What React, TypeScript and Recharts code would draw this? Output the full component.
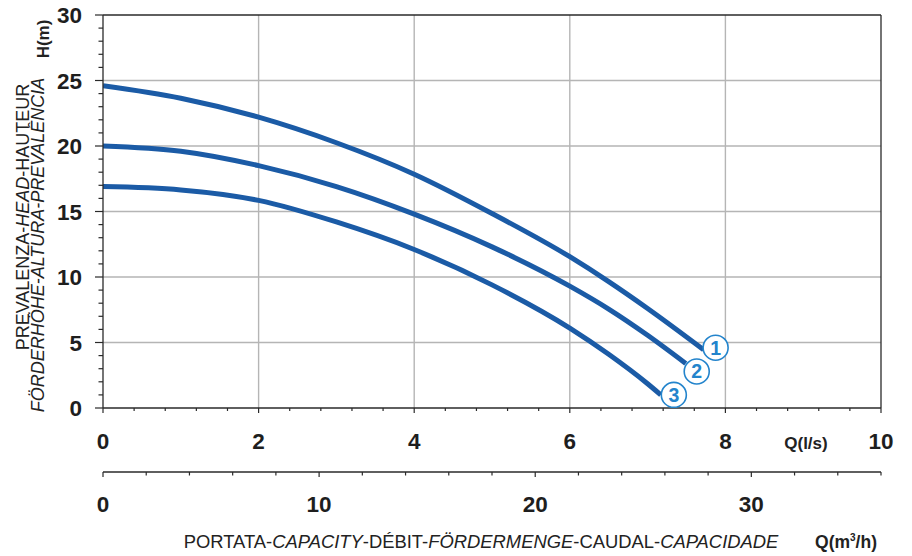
import { LineChart, Line, XAxis, YAxis, ReferenceLine, Label } from "recharts"

// pump curves, flow Q in l/s, head H in m
const Q_CURVE_1 = [0, 1, 2, 3, 4, 5, 6, 6.5, 7, 7.72]
const H_CURVE_1 = [24.6, 23.65, 22.2, 20.25, 17.85, 14.85, 11.55, 9.65, 7.6, 4.45]
const Q_CURVE_2 = [0, 1, 2, 3, 4, 5, 6, 6.5, 7, 7.49]
const H_CURVE_2 = [20.0, 19.6, 18.5, 16.9, 14.8, 12.3, 9.3, 7.55, 5.55, 3.4]
const Q_CURVE_3 = [0, 1, 2, 3, 4, 5, 6, 6.5, 7, 7.17]
const H_CURVE_3 = [16.9, 16.65, 15.85, 14.2, 12.1, 9.4, 6.1, 4.1, 1.85, 1.0]
const CURVE_NAMES = ["1", "2", "3"]

const H_TICKS = [0, 1, 2, 3, 4, 5, 6, 7, 8, 9, 10, 11, 12, 13, 14, 15, 16, 17, 18, 19, 20, 21, 22, 23, 24, 25, 26, 27, 28, 29, 30]
const H_LABELS = [0, 5, 10, 15, 20, 25, 30]
const H_GRID = [5, 10, 15, 20, 25]

const Q_TICKS = [0, 0.4, 0.8, 1.2, 1.6, 2, 2.4, 2.8, 3.2, 3.6, 4, 4.4, 4.8, 5.2, 5.6, 6, 6.4, 6.8, 7.2, 7.6, 8, 8.4, 8.8, 9.2, 9.6, 10]
const Q_LABELS = [0, 2, 4, 6, 8, 10]
const Q_GRID = [2, 4, 6, 8]

const M3_TICKS = [0, 2, 4, 6, 8, 10, 12, 14, 16, 18, 20, 22, 24, 26, 28, 30, 32, 34, 36]
const M3_LABELS = [0, 10, 20, 30]
const LS_TO_M3H = 3.6

const BLUE = "#1b5ba6"
const MARK = "#2384cc"
const AXIS = "#2a2a2a"
const GRID = "#b5b5b5"
const FONT = "'Liberation Sans', Arial, Helvetica, sans-serif"

const toSeries = (qs: number[], hs: number[]) => qs.map((q, i) => ({ q, h: hs[i] }))

const curves = [
    { name: CURVE_NAMES[0], data: toSeries(Q_CURVE_1, H_CURVE_1), dx: 12, dy: -2 },
    { name: CURVE_NAMES[1], data: toSeries(Q_CURVE_2, H_CURVE_2), dx: 11, dy: 8 },
    { name: CURVE_NAMES[2], data: toSeries(Q_CURVE_3, H_CURVE_3), dx: 13, dy: 0 },
]

// same curve 1 in m3/h, only so the second flow axis has a series bound to it
const curve1M3 = Q_CURVE_1.map((q, i) => ({ m3: q * LS_TO_M3H, h: H_CURVE_1[i] }))

function HTick({ x, y, payload }: any) {
    const v = payload.value
    const major = H_LABELS.includes(v)
    return (
        <g>
            <line x1={x - (major ? 8 : 4.5)} x2={x} y1={y} y2={y} stroke={AXIS} strokeWidth={1.2} />
            {major && (
                <text x={x - 21} y={y + 8} textAnchor="end" fontSize={22.5} fontWeight="bold" fontFamily={FONT} fill="#1e1e1e">
                    {v}
                </text>
            )}
        </g>
    )
}

function makeXTick(labels: number[], majorLen: number, minorLen: number, labelDy: number) {
    return function XTick({ x, y, payload }: any) {
        const v = payload.value
        const major = labels.includes(v)
        return (
            <g>
                <line x1={x} x2={x} y1={y} y2={y + (major ? majorLen : minorLen)} stroke={AXIS} strokeWidth={1.2} />
                {major && (
                    <text x={x} y={y + labelDy} textAnchor="middle" fontSize={22.5} fontWeight="bold" fontFamily={FONT} fill="#1e1e1e">
                        {v}
                    </text>
                )}
            </g>
        )
    }
}

const QTick = makeXTick(Q_LABELS, 5, 3, 41)
const M3Tick = makeXTick(M3_LABELS, 5, 3.5, 40)

function makeEndDot(name: string, last: number, dx: number, dy: number) {
    return (props: any) => {
        const { cx, cy, index } = props
        if (index !== last) return <g key={index} />
        return (
            <g key={index}>
                <circle cx={cx + dx} cy={cy + dy} r={12.5} fill="#fff" stroke={MARK} strokeWidth={1.6} />
                <text x={cx + dx} y={cy + dy + 7} textAnchor="middle" fontSize={19.5} fontWeight="bold" fontFamily={FONT} fill={MARK}>
                    {name}
                </text>
            </g>
        )
    }
}

function YTitle({ viewBox }: any) {
    const x0 = viewBox.x
    return (
        <g fontFamily={FONT} fill="#222">
            <text transform={`translate(${x0 + 25.5},217) rotate(-90)`} textAnchor="middle" fontSize={18}>
                <tspan>PREVALENZA-</tspan>
                <tspan fontStyle="italic">HEAD</tspan>
                <tspan>-HAUTEUR</tspan>
            </text>
            <text transform={`translate(${x0 + 41},245) rotate(-90)`} textAnchor="middle" fontSize={18} fontStyle="italic">
                FÖRDERHÖHE-ALTURA-PREVALÊNCIA
            </text>
            <text transform={`translate(${x0 + 46},39) rotate(-90)`} textAnchor="middle" fontSize={17} fontWeight="bold">
                H(m)
            </text>
        </g>
    )
}

function QTitle({ viewBox }: any) {
    return (
        <text x={viewBox.x + 703} y={viewBox.y + 41} textAnchor="middle" fontSize={17} fontWeight="bold" fontFamily={FONT} fill="#222">
            Q(l/s)
        </text>
    )
}

function M3Title({ viewBox }: any) {
    const y = viewBox.y + 76
    return (
        <g fontFamily={FONT} fill="#222">
            <text x={viewBox.x + 378} y={y} textAnchor="middle" fontSize={18.4}>
                <tspan>PORTATA-</tspan>
                <tspan fontStyle="italic">CAPACITY</tspan>
                <tspan>-DÉBIT-</tspan>
                <tspan fontStyle="italic">FÖRDERMENGE</tspan>
                <tspan>-CAUDAL-</tspan>
                <tspan fontStyle="italic">CAPACIDADE</tspan>
            </text>
            <text x={viewBox.x + 743} y={y} textAnchor="middle" fontSize={17.5} fontWeight="bold">
                <tspan>Q(m</tspan>
                <tspan dy={-7} fontSize={10}>3</tspan>
                <tspan dy={7}>/h)</tspan>
            </text>
        </g>
    )
}

export default function App() {
    return (
        <div style={{ width: 912, height: 556 }}>
            <style>{"body{margin:0}"}</style>
            <LineChart width={912} height={556} margin={{ top: 15, right: 31, bottom: 24, left: 3 }}>
                <XAxis
                    xAxisId={0}
                    dataKey="q"
                    type="number"
                    domain={[0, 10]}
                    ticks={Q_TICKS}
                    interval={0}
                    tickSize={0}
                    tickMargin={0}
                    tickLine={false}
                    tick={<QTick />}
                    height={64}
                    stroke={AXIS}
                    strokeWidth={1.3}
                    allowDataOverflow
                >
                    <Label content={<QTitle />} />
                </XAxis>
                <XAxis
                    xAxisId="m3"
                    dataKey="m3"
                    type="number"
                    domain={[0, 36]}
                    ticks={M3_TICKS}
                    interval={0}
                    tickSize={0}
                    tickMargin={0}
                    tickLine={false}
                    tick={<M3Tick />}
                    height={60}
                    stroke={AXIS}
                    strokeWidth={1.3}
                    allowDataOverflow
                >
                    <Label content={<M3Title />} />
                </XAxis>
                <YAxis
                    type="number"
                    domain={[0, 30]}
                    ticks={H_TICKS}
                    interval={0}
                    tickSize={0}
                    tickMargin={0}
                    tickLine={false}
                    tick={<HTick />}
                    width={100}
                    stroke={AXIS}
                    strokeWidth={1.3}
                    allowDataOverflow
                >
                    <Label content={<YTitle />} />
                </YAxis>
                {H_GRID.map((v) => (
                    <ReferenceLine key={`h${v}`} y={v} stroke={GRID} strokeWidth={1.4} />
                ))}
                {Q_GRID.map((v) => (
                    <ReferenceLine key={`q${v}`} x={v} stroke={GRID} strokeWidth={1.4} />
                ))}
                <ReferenceLine y={30} stroke={AXIS} strokeWidth={1.3} />
                <ReferenceLine x={10} stroke={AXIS} strokeWidth={1.3} />
                <Line
                    xAxisId="m3"
                    data={curve1M3}
                    dataKey="h"
                    stroke="none"
                    dot={false}
                    activeDot={false}
                    legendType="none"
                    isAnimationActive={false}
                />
                {curves.map((c) => (
                    <Line
                        key={c.name}
                        data={c.data}
                        dataKey="h"
                        type="monotone"
                        stroke={BLUE}
                        strokeWidth={5}
                        dot={makeEndDot(c.name, c.data.length - 1, c.dx, c.dy)}
                        activeDot={false}
                        isAnimationActive={false}
                    />
                ))}
            </LineChart>
        </div>
    )
}
